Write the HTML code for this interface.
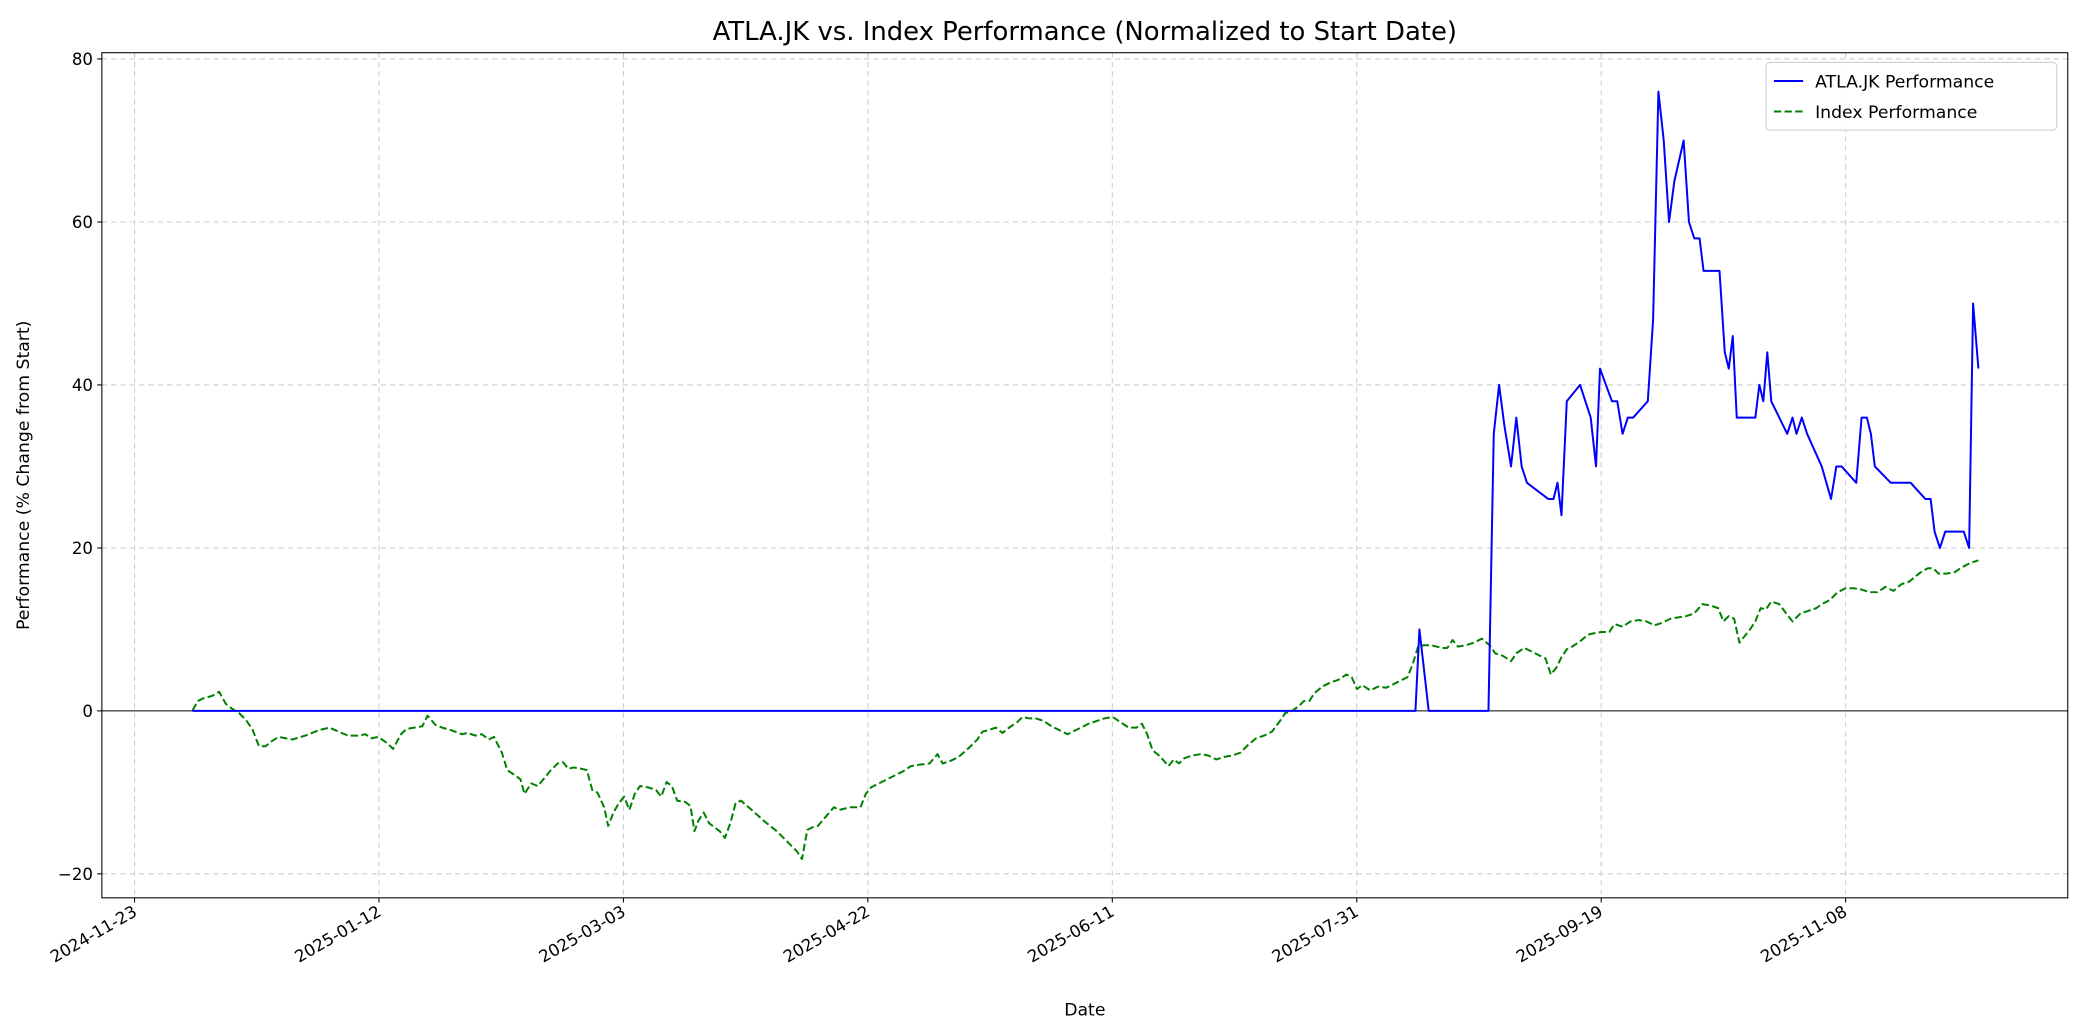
<!DOCTYPE html>
<html><head><meta charset="utf-8"><style>html,body{margin:0;padding:0;background:#fff}svg{display:block}</style></head>
<body>
<svg width="2082" height="1035" viewBox="0 0 1568 779.5" xmlns="http://www.w3.org/2000/svg" font-family="'DejaVu Sans','Liberation Sans',sans-serif">
<rect width="1568" height="779.5" fill="#fff"/>
<g stroke="#cccccc" stroke-width="0.8" stroke-dasharray="4,3">
<line x1="101.3" y1="39.7" x2="101.3" y2="676.2"/><line x1="285.4" y1="39.7" x2="285.4" y2="676.2"/><line x1="469.5" y1="39.7" x2="469.5" y2="676.2"/><line x1="653.6" y1="39.7" x2="653.6" y2="676.2"/><line x1="837.7" y1="39.7" x2="837.7" y2="676.2"/><line x1="1021.8" y1="39.7" x2="1021.8" y2="676.2"/><line x1="1205.9" y1="39.7" x2="1205.9" y2="676.2"/><line x1="1390" y1="39.7" x2="1390" y2="676.2"/>
<line x1="76.7" y1="44.4" x2="1557.3" y2="44.4"/><line x1="76.7" y1="167.2" x2="1557.3" y2="167.2"/><line x1="76.7" y1="289.9" x2="1557.3" y2="289.9"/><line x1="76.7" y1="412.7" x2="1557.3" y2="412.7"/><line x1="76.7" y1="658.1" x2="1557.3" y2="658.1"/>
</g>
<line x1="76.7" y1="535.4" x2="1557.3" y2="535.4" stroke="#000" stroke-width="0.8"/>
<polyline fill="none" stroke="#008000" stroke-width="1.5" stroke-dasharray="5.5,2.5" stroke-linejoin="round" points="145,535 149,528 153,526 160,524 165,521 170,530 175,534 180,537 185,542 190,549 195,562 200,562 205,558 210,555 215,556 220,557 230,554 240,550 248,548 255,551 262,554 270,554 275,553 280,556 285,555 292,560 296,564 302,553 306,549 312,548 318,547 322,539 328,546 333,548 340,550 348,553 352,552 358,554 363,553 368,557 372,555 378,567 382,580 388,584 392,587 395,598 400,590 405,592 410,586 414,581 420,575 424,574 428,579 432,578 438,579 442,580 446,595 450,597 455,608 458,622 462,612 466,605 470,600 474,610 478,598 482,592 488,593 494,595 498,600 502,589 506,592 510,603 516,604 520,607 523,626 526,618 530,612 534,620 538,623 542,626 546,631 550,620 554,605 558,603 565,609 575,618 585,626 595,636 600,641 604,647 608,625 612,623 616,622 622,615 628,608 632,610 640,608 648,608 652,598 656,593 662,590 668,587 674,584 680,581 686,577 692,576 700,575 706,568 710,575 716,573 722,570 730,563 736,557 740,551 744,550 750,548 755,552 760,548 766,544 770,540 775,541 780,541 786,543 792,547 798,550 804,553 808,551 814,548 820,545 826,543 832,541 838,540 844,544 850,548 856,548 860,545 864,553 868,565 874,570 880,577 884,572 888,575 892,571 898,569 904,568 910,569 916,572 922,570 928,569 934,567 940,561 946,556 952,554 958,551 964,543 968,537 972,536 978,532 982,528 986,528 990,522 996,517 1002,514 1008,512 1014,508 1018,510 1022,519 1026,516 1032,520 1038,517 1044,518 1050,515 1056,512 1060,510 1064,500 1068,487 1072,486 1078,486 1086,488 1090,488 1094,482 1098,487 1104,486 1110,484 1116,481 1122,486 1126,492 1132,494 1138,498 1142,492 1148,488 1154,491 1160,494 1164,496 1168,508 1172,503 1176,495 1180,489 1184,487 1190,483 1196,478 1200,477 1206,476 1212,476 1216,470 1222,472 1228,468 1234,467 1240,468 1246,471 1252,469 1258,466 1264,465 1270,464 1276,462 1282,455 1288,456 1294,458 1298,468 1302,464 1306,466 1310,484 1314,479 1318,474 1322,468 1326,458 1330,459 1334,453 1340,455 1346,463 1350,468 1356,462 1362,460 1368,458 1372,455 1378,452 1384,446 1390,443 1396,443 1402,444 1408,446 1414,446 1420,442 1426,445 1432,440 1438,438 1444,433 1448,430 1452,428 1456,428 1460,432 1466,432 1472,431 1478,427 1484,424 1490,422"/>
<polyline fill="none" stroke="#0000ff" stroke-width="1.5" stroke-linejoin="round" id="b" points=""/>
<rect x="76.7" y="39.7" width="1480.6" height="636.5" fill="none" stroke="#000" stroke-width="0.8"/>
<g stroke="#000" stroke-width="0.8">
<line x1="101.3" y1="676.2" x2="101.3" y2="679.7"/><line x1="285.4" y1="676.2" x2="285.4" y2="679.7"/><line x1="469.5" y1="676.2" x2="469.5" y2="679.7"/><line x1="653.6" y1="676.2" x2="653.6" y2="679.7"/><line x1="837.7" y1="676.2" x2="837.7" y2="679.7"/><line x1="1021.8" y1="676.2" x2="1021.8" y2="679.7"/><line x1="1205.9" y1="676.2" x2="1205.9" y2="679.7"/><line x1="1390" y1="676.2" x2="1390" y2="679.7"/>
<line x1="73.2" y1="44.4" x2="76.7" y2="44.4"/><line x1="73.2" y1="167.2" x2="76.7" y2="167.2"/><line x1="73.2" y1="289.9" x2="76.7" y2="289.9"/><line x1="73.2" y1="412.7" x2="76.7" y2="412.7"/><line x1="73.2" y1="535.4" x2="76.7" y2="535.4"/><line x1="73.2" y1="658.1" x2="76.7" y2="658.1"/>
</g>
<g font-size="12.5" text-anchor="end" fill="#000">
<text x="70" y="49">80</text><text x="70" y="171.7">60</text><text x="70" y="294.4">40</text><text x="70" y="417.2">20</text><text x="70" y="539.9">0</text><text x="70" y="662.6">−20</text>
</g>
<g font-size="12.5" text-anchor="end" fill="#000">
<text transform="translate(104,689) rotate(-30)">2024-11-23</text>
<text transform="translate(288,689) rotate(-30)">2025-01-12</text>
<text transform="translate(472,689) rotate(-30)">2025-03-03</text>
<text transform="translate(656,689) rotate(-30)">2025-04-22</text>
<text transform="translate(840,689) rotate(-30)">2025-06-11</text>
<text transform="translate(1024,689) rotate(-30)">2025-07-31</text>
<text transform="translate(1208,689) rotate(-30)">2025-09-19</text>
<text transform="translate(1392,689) rotate(-30)">2025-11-08</text>
</g>
<text x="817" y="765" font-size="13" text-anchor="middle">Date</text>
<text transform="translate(22,358) rotate(-90)" font-size="13" text-anchor="middle">Performance (% Change from Start)</text>
<text x="817" y="30" font-size="19.5" text-anchor="middle">ATLA.JK vs. Index Performance (Normalized to Start Date)</text>
<rect x="1330" y="47" width="219" height="51" rx="3" fill="#fff" fill-opacity="0.8" stroke="#ccc" stroke-width="0.8"/>
<line x1="1336" y1="61" x2="1358" y2="61" stroke="#0000ff" stroke-width="1.5"/>
<line x1="1336" y1="84" x2="1358" y2="84" stroke="#008000" stroke-width="1.5" stroke-dasharray="5.5,2.5"/>
<text x="1367" y="66" font-size="13">ATLA.JK Performance</text>
<text x="1367" y="89" font-size="13">Index Performance</text>
<script>
var d=[[145,0],[1066,0],[1069,10],[1076,0],[1121,0],[1125,34],[1129,40],[1133,35],[1138,30],[1142,36],[1146,30],[1150,28],[1166,26],[1170,26],[1173,28],[1176,24],[1180,38],[1190,40],[1198,36],[1202,30],[1205,42],[1214,38],[1218,38],[1222,34],[1226,36],[1230,36],[1241,38],[1245,48],[1249,76],[1253,70],[1257,60],[1261,65],[1268,70],[1272,60],[1276,58],[1280,58],[1283,54],[1295,54],[1299,44],[1302,42],[1305,46],[1308,36],[1322,36],[1325,40],[1328,38],[1331,44],[1334,38],[1346,34],[1350,36],[1353,34],[1357,36],[1361,34],[1372,30],[1379,26],[1383,30],[1387,30],[1398,28],[1402,36],[1406,36],[1409,34],[1412,30],[1424,28],[1439,28],[1450,26],[1454,26],[1457,22],[1461,20],[1465,22],[1479,22],[1483,20],[1486,50],[1490,42]];
document.getElementById('b').setAttribute('points',d.map(function(p){return p[0]+','+(535.4-6.137*p[1]).toFixed(1)}).join(' '));
</script>
</svg>
</body></html>
